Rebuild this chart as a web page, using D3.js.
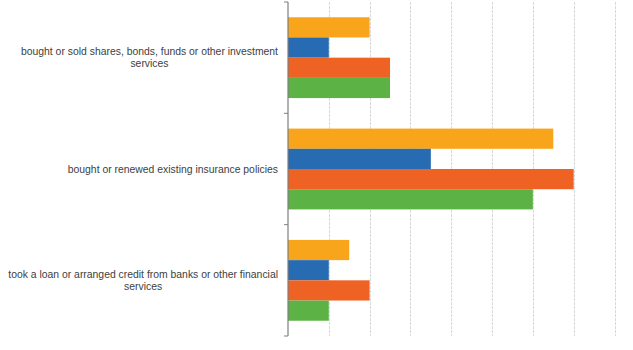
<!DOCTYPE html>
<html><head><meta charset="utf-8">
<script src="https://cdn.jsdelivr.net/npm/d3@7"></script>
<style>body{margin:0;background:#fff}svg{display:block}</style>
</head><body>
<script>
const categories = [
  "bought or sold shares, bonds, funds or other investment services",
  "bought or renewed existing insurance policies",
  "took a loan or arranged credit from banks or other financial services"
];
const labelLines = [
  ["bought or sold shares, bonds, funds or other investment", "services"],
  ["bought or renewed existing insurance policies"],
  ["took a loan or arranged credit from banks or other financial", "services"]
];
const seriesNames = ["Series 1", "Series 2", "Series 3", "Series 4"];
const seriesColors = ["#F8A51B", "#276CB3", "#EE6223", "#5DB246"];
const values = [
  [2, 1, 2.5, 2.5],
  [6.5, 3.5, 7, 6],
  [1.5, 1, 2, 1]
];
const xTicks = [0, 1, 2, 3, 4, 5, 6, 7, 8];

const W = 633, H = 350;
const svg = d3.select("body").append("svg").attr("width", W).attr("height", H);

const x = d3.scaleLinear().domain([0, 8]).range([288, 614.5]);
const y = d3.scaleBand().domain(categories).range([2, 336]).paddingInner(0).paddingOuter(0);
const yInner = d3.scaleBand().domain(seriesNames).range([0, y.bandwidth()]).paddingInner(0).paddingOuter(0.755);

// gridlines
svg.append("g").selectAll("line").data(xTicks.slice(1)).join("line")
  .attr("x1", d => Math.round(x(d)) + 0.5).attr("x2", d => Math.round(x(d)) + 0.5)
  .attr("y1", 2).attr("y2", 336)
  .attr("stroke", "#d9d9d9").attr("stroke-width", 1).attr("stroke-dasharray", "3,1");

// bars
const groups = svg.append("g").selectAll("g").data(categories).join("g")
  .attr("transform", d => `translate(0,${y(d)})`);
groups.selectAll("rect").data((d, i) => values[i].map((v, j) => ({v, j})))
  .join("rect")
  .attr("x", x(0))
  .attr("y", d => yInner(seriesNames[d.j]))
  .attr("width", d => x(d.v) - x(0))
  .attr("height", yInner.bandwidth())
  .attr("fill", d => seriesColors[d.j]);

// y axis
const ax = svg.append("g").attr("transform", `translate(${x(0)},0)`);
ax.append("line").attr("x1", 0).attr("x2", 0).attr("y1", 2).attr("y2", 336)
  .attr("stroke", "#7f7f7f").attr("stroke-width", 1.2);
const boundaries = [0, 1, 2, 3].map(i => 2 + i * y.step());
ax.selectAll("line.tk").data(boundaries).join("line").attr("class", "tk")
  .attr("x1", -4).attr("x2", 0).attr("y1", d => d).attr("y2", d => d)
  .attr("stroke", "#7f7f7f").attr("stroke-width", 1);

// labels
const lab = svg.append("g").attr("font-family", "Liberation Sans, Arial, sans-serif")
  .attr("font-size", 10.4).attr("fill", "#404040");
categories.forEach((c, i) => {
  const lines = labelLines[i];
  const cy = y(c) + y.bandwidth() / 2;
  const lh = 12;
  const g = lab.append("g");
  const texts = lines.map((t, k) => g.append("text")
    .attr("y", cy + (k - (lines.length - 1) / 2) * lh)
    .attr("dy", "0.35em").attr("text-anchor", "middle").text(t));
  const maxW = d3.max(texts, t => t.node().getComputedTextLength());
  texts.forEach(t => t.attr("x", 278 - maxW / 2));
});
</script>
</body></html>
